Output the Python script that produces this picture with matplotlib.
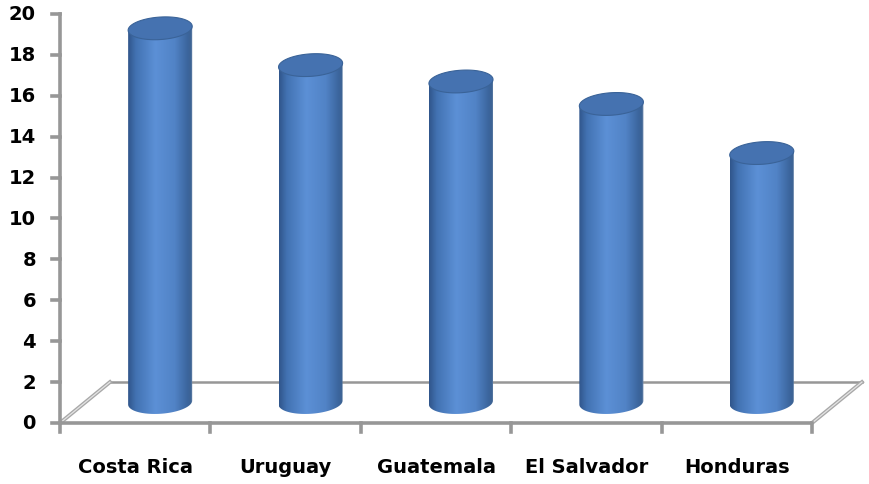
import numpy as np
import matplotlib.pyplot as plt
from matplotlib.colors import LinearSegmentedColormap
from matplotlib.patches import Polygon

# Data
countries = ['Costa Rica', 'Uruguay', 'Guatemala', 'El Salvador', 'Honduras']
values = [18.3, 16.5, 15.7, 14.6, 12.2]
y_ticks = list(range(0, 21, 2))

# oblique 3D look: floor depth in category units / value units
depth_x = 0.332
depth_y = 2.0
half_w = 0.213      # cylinder radius (category units)
ell_h = 0.55        # ellipse vertical semi-axis (value units)
shear = 0.45        # tilt of the ellipses

fig = plt.figure(figsize=(8.69, 4.85), dpi=100)
ax = fig.add_axes([0, 0, 1, 1])
ax.set_xlim(-0.399, 5.379)
ax.set_ylim(-2.983, 20.733)
ax.axis('off')

axis_col = '#979797'
n = len(countries)

# floor
ax.plot([0, n], [0, 0], color=axis_col, lw=2.6, solid_capstyle='butt', zorder=2)
ax.plot([depth_x, n + depth_x], [depth_y, depth_y], color=axis_col, lw=1.8, zorder=1)
for x0 in (0, n):
    ax.plot([x0, x0 + depth_x], [0, depth_y], color='#a8a8a8', lw=2.8, zorder=1)
    ax.plot([x0, x0 + depth_x], [0, depth_y], color='#e4e4e4', lw=0.9, zorder=1)

# value axis
ax.plot([0, 0], [0, 20], color=axis_col, lw=2.6, zorder=2)
for t in y_ticks:
    ax.plot([-0.055, 0], [t, t], color=axis_col, lw=2.6, zorder=2)
    ax.text(-0.16, t, str(t), ha='right', va='center', fontsize=14,
            fontweight='bold', color='black')

# category ticks and labels
for i in range(n + 1):
    ax.plot([i, i], [0, -0.42], color=axis_col, lw=2.6, zorder=2)
for i, name in enumerate(countries):
    ax.text(i + 0.5, -2.15, name, ha='center', va='center', fontsize=14,
            fontweight='bold', family=['Liberation Sans Narrow', 'DejaVu Sans'])

# cylinder shading
body_cmap = LinearSegmentedColormap.from_list('body', [
    (0.0, '#30558a'), (0.12, '#4272b2'), (0.42, '#5c90d6'),
    (0.72, '#5183c6'), (0.92, '#3b659d'), (0.97, '#3d6393'), (1.0, '#8198b8')])
grad = np.linspace(0, 1, 256).reshape(1, -1)

t = np.linspace(0, 2 * np.pi, 200)
t_front = np.linspace(np.pi, 2 * np.pi, 100)

for i, v in enumerate(values):
    cx = i + 0.5 + depth_x / 2
    base = depth_y / 2

    # body: bottom front arc up to top centre line
    bx = cx + half_w * np.cos(t_front)
    by = base + ell_h * np.sin(t_front) + shear * (bx - cx)
    body = np.column_stack([
        np.concatenate([bx, [cx + half_w, cx - half_w]]),
        np.concatenate([by, [base + v + shear * half_w, base + v - shear * half_w]])])
    poly = Polygon(body, closed=True, facecolor='none', edgecolor='none', zorder=3)
    ax.add_patch(poly)
    im = ax.imshow(grad, cmap=body_cmap, aspect='auto', zorder=3,
                   extent=[cx - half_w, cx + half_w, base - 1.5, base + v + 1.5],
                   interpolation='bilinear')
    im.set_clip_path(poly)

    # top cap
    tx = cx + half_w * np.cos(t)
    ty = base + v + ell_h * np.sin(t) + shear * (tx - cx)
    ax.add_patch(Polygon(np.column_stack([tx, ty]), closed=True,
                         facecolor='#4572b0', edgecolor='#3a6398', lw=0.8, zorder=4))

fig.savefig('out.png', dpi=100)
